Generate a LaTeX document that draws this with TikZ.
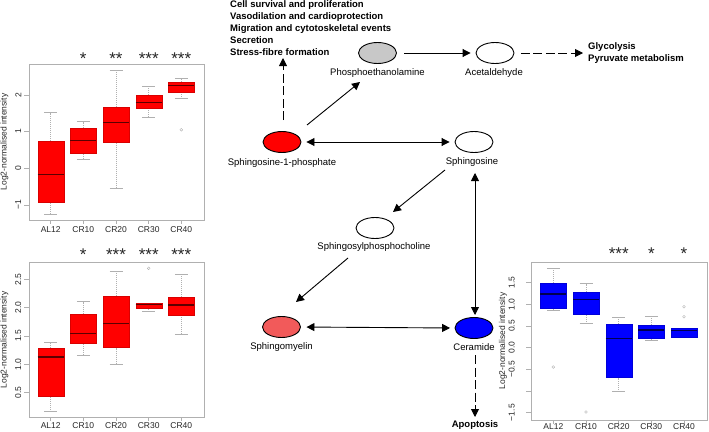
\documentclass[tikz,border=0pt]{standalone}
\usepackage{fontspec}
\setmainfont{Liberation Sans}
\usetikzlibrary{arrows.meta,shapes.geometric,calc}
\definecolor{frm}{HTML}{B0B0B0}
\definecolor{pegrey}{HTML}{C8C8C8}
\definecolor{smred}{HTML}{F25A5A}
\definecolor{medr}{HTML}{5A0000}
\definecolor{medb}{HTML}{000050}
\newcommand\bxp[8]{% x, wlo, q1, med, q3, whi, fill, median colour
  \draw[whisk] (#1,#2) -- (#1,#3) (#1,#5) -- (#1,#6);
  \draw[capl] (#1-6.5,#2) -- (#1+6.5,#2) (#1-6.5,#6) -- (#1+6.5,#6);
  \filldraw[fill=#7,draw=#7!85!black,line width=0.4pt] (#1-13,#3) rectangle (#1+13,#5);
  \draw[#8,line width=1.1pt] (#1-13,#4) -- (#1+13,#4);
}
\begin{document}
\begin{tikzpicture}[x=1pt,y=-1pt,
  met/.style={ellipse,draw=black,line width=0.9pt,minimum width=38pt,minimum height=21pt,inner sep=0pt},
  lab/.style={font=\fontsize{9.5}{11}\selectfont,inner sep=0pt},
  bld/.style={font=\fontsize{9.5}{12}\selectfont\bfseries,inner sep=0pt,align=left},
  arr/.style={line width=0.9pt,-{Triangle[length=8pt,width=8pt]}},
  darr/.style={line width=0.9pt,{Triangle[length=8pt,width=8pt]}-{Triangle[length=8pt,width=8pt]}},
  dasharr/.style={arr,dash pattern=on 9pt off 3.5pt},
  frame/.style={draw=frm,line width=0.6pt},
  whisk/.style={draw=frm,line width=0.5pt,dash pattern=on 1pt off 1pt},
  capl/.style={draw=frm,line width=0.6pt},
  outl/.style={draw=frm,line width=0.4pt},
  tick/.style={font=\fontsize{8.5}{9}\selectfont,inner sep=0pt,text=black!85},
  axlab/.style={font=\fontsize{8.5}{9}\selectfont,inner sep=0pt,text=black!85},
  star/.style={font=\fontsize{17}{17}\selectfont,inner sep=0pt,anchor=base,text=black!85}]
\useasboundingbox (0,0) rectangle (709,431);

% ---------------- pathway ----------------
\node[met,fill=pegrey] (pe) at (377.5,53) {};
\node[lab] (pelab) at (377.5,73) {Phosphoethanolamine};
\node[met,fill=white] (ac) at (495,53) {};
\node[lab] (aclab) at (494,73) {Acetaldehyde};
\node[bld,anchor=west] (gly) at (588,53) {Glycolysis\\Pyruvate metabolism};
\node[bld,anchor=west] (fx) at (230,28) {Cell survival and proliferation\\Vasodilation and cardioprotection\\Migration and cytotoskeletal events\\Secretion\\Stress-fibre formation};
\coordinate (fxtip) at (283,58);
\node[met,fill=red] (s1p) at (282,142) {};
\node[lab] (s1plab) at (282,163) {Sphingosine-1-phosphate};
\node[met,fill=white] (sph) at (474,142) {};
\node[lab] (sphlab) at (472,162) {Sphingosine};
\node[met,fill=white] (spc) at (375,228) {};
\node[lab] (spclab) at (374,247) {Sphingosylphosphocholine};
\node[met,fill=smred] (sm) at (281.5,327) {};
\node[lab] (smlab) at (281.5,347) {Sphingomyelin};
\node[met,fill=blue] (cer) at (474,328) {};
\node[lab] (cerlab) at (474,347) {Ceramide};
\node[bld] (apo) at (475,425) {Apoptosis};

\draw[dasharr] ([shift={(1,-22)}]s1p.center) -- (fxtip);
\draw[arr] ([shift={(25,-17)}]s1p.center) -- ([shift={(-17.5,29)}]pe.center);
\draw[arr,shorten <=7.5pt,shorten >=5pt] (pe.east) -- (ac.west);
\draw[dasharr,shorten <=6.5pt,shorten >=5pt] (ac.east) -- (gly.west |- ac.east);
\draw[darr,shorten <=5pt,shorten >=5pt] (s1p.east) -- (sph.west);
\draw[arr] ([shift={(-29,28)}]sph.center) -- ([shift={(18,-16)}]spc.center);
\draw[arr] ([shift={(-27,30)}]spc.center) -- ([shift={(14.5,-25)}]sm.center);
\draw[darr,shorten <=5.5pt,shorten >=4.5pt] (sm.east) -- (cer.west);
\draw[darr] ([shift={(1,31)}]sph.center) -- ([shift={(1,-13)}]cer.center);
\draw[dasharr] ([shift={(1,27)}]cer.center) -- ([shift={(0,-8)}]apo.center);

% ---------------- plot 1 ----------------
\draw[frame] (29,64.3) rectangle (204,220);
\node[axlab,rotate=90] (ylab1) at (4.5,142) {Log2-normalised intensity};
\foreach \x/\t [count=\k] in {50.7/AL12,83.3/CR10,116.0/CR20,148.7/CR30,181.3/CR40}{
  \draw[frame] (\x,220) -- (\x,224);
  \node[tick] (xa\k) at (\x,230) {\t};
}
\node[star] (sa2) at (83.3,64.7) {*};
\node[star] (sa3) at (116.0,64.7) {**};
\node[star] (sa4) at (148.7,64.7) {***};
\node[star] (sa5) at (181.3,64.7) {***};
\begin{scope}[shift={(0,168.3)},y=36.7pt]
  \foreach \v/\t [count=\k] in {-1/−1,0/0,1/1,2/2}{
    \draw[frame] (29,\v) -- (24,\v);
    \node[tick,rotate=90] (ya\k) at (18.3,\v) {\t};
  }
  \bxp{50.7}{-1.25}{-0.93}{-0.17}{0.75}{1.52}{red}{medr}
  \bxp{83.3}{0.25}{0.40}{0.75}{1.10}{1.27}{red}{medr}
  \bxp{116.0}{-0.55}{0.70}{1.25}{1.67}{2.68}{red}{medr}
  \bxp{148.7}{1.40}{1.65}{1.80}{2.00}{2.23}{red}{medr}
  \bxp{181.3}{1.90}{2.07}{2.25}{2.35}{2.45}{red}{medr}
  \draw[outl] (181.3,1.05) circle (1.4pt);
\end{scope}

% ---------------- plot 2 ----------------
\draw[frame] (29,262.3) rectangle (204,417.3);
\node[axlab,rotate=90] (ylab2) at (4.5,340) {Log2-normalised intensity};
\foreach \x/\t [count=\k] in {50.7/AL12,83.3/CR10,116.0/CR20,148.7/CR30,181.3/CR40}{
  \draw[frame] (\x,417.3) -- (\x,421.3);
  \node[tick] (xb\k) at (\x,426) {\t};
}
\node[star] (sb2) at (83.3,260.4) {*};
\node[star] (sb3) at (116.0,260.4) {***};
\node[star] (sb4) at (148.7,260.4) {***};
\node[star] (sb5) at (181.3,260.4) {***};
\begin{scope}[shift={(0,421.1)},y=56.7pt]
  \foreach \v/\t [count=\k] in {0.5/0.5,1/1.0,1.5/1.5,2/2.0,2.5/2.5}{
    \draw[frame] (29,\v) -- (24,\v);
    \node[tick,rotate=90] (yb\k) at (18.3,\v) {\t};
  }
  \bxp{50.7}{0.166}{0.447}{1.13}{1.284}{1.39}{red}{medr}
  \bxp{83.3}{1.166}{1.38}{1.54}{1.883}{2.106}{red}{medr}
  \bxp{116.0}{1.0}{1.295}{1.72}{2.206}{2.647}{red}{medr}
  \bxp{148.7}{1.93}{2.0}{2.05}{2.077}{2.08}{red}{medr}
  \bxp{181.3}{1.536}{1.871}{2.048}{2.194}{2.589}{red}{medr}
  \draw[outl] (148.7,2.695) circle (1.4pt);
\end{scope}

% ---------------- plot 3 ----------------
\draw[frame] (531,262.7) rectangle (707.3,420);
\node[axlab,rotate=90] (ylab3) at (503,341) {Log2-normalised intensity};
\foreach \x/\t [count=\k] in {553.3/AL12,586.0/CR10,618.7/CR20,651.3/CR30,684.0/CR40}{
  \draw[frame] (\x,420) -- (\x,423.5);
  \node[tick] (xc\k) at (\x,426.3) {\t};
}
\node[star] (sc3) at (618.7,259.7) {***};
\node[star] (sc4) at (651.3,259.7) {*};
\node[star] (sc5) at (684.0,259.7) {*};
\begin{scope}[shift={(0,347.7)},y=43.3pt]
  \foreach \v in {-1.5,-1,-0.5,0,0.5,1,1.5}{
    \draw[frame] (531,\v) -- (526,\v);
  }
  \foreach \v/\t [count=\k] in {-1.5/−1.5,-0.5/−0.5,0/0.0,0.5/0.5,1/1.0,1.5/1.5}{
    \node[tick,rotate=90] (yc\k) at (511.7,\v) {\t};
  }
  \bxp{553.3}{0.87}{0.917}{1.24}{1.50}{1.84}{blue}{medb}
  \bxp{586.0}{0.554}{0.778}{1.12}{1.29}{1.48}{blue}{medb}
  \bxp{618.7}{-1.016}{-0.69}{0.217}{0.547}{0.70}{blue}{medb}
  \bxp{651.3}{0.178}{0.23}{0.41}{0.53}{0.732}{blue}{medb}
  \bxp{684.0}{0.24}{0.254}{0.39}{0.44}{0.44}{blue}{medb}
  \draw[outl] (553.3,-0.446) circle (1.4pt);
  \draw[outl] (586.0,-1.485) circle (1.4pt);
  \draw[outl] (684.0,0.947) circle (1.4pt);
  \draw[outl] (684.0,0.716) circle (1.4pt);
\end{scope}
\end{tikzpicture}
\end{document}
